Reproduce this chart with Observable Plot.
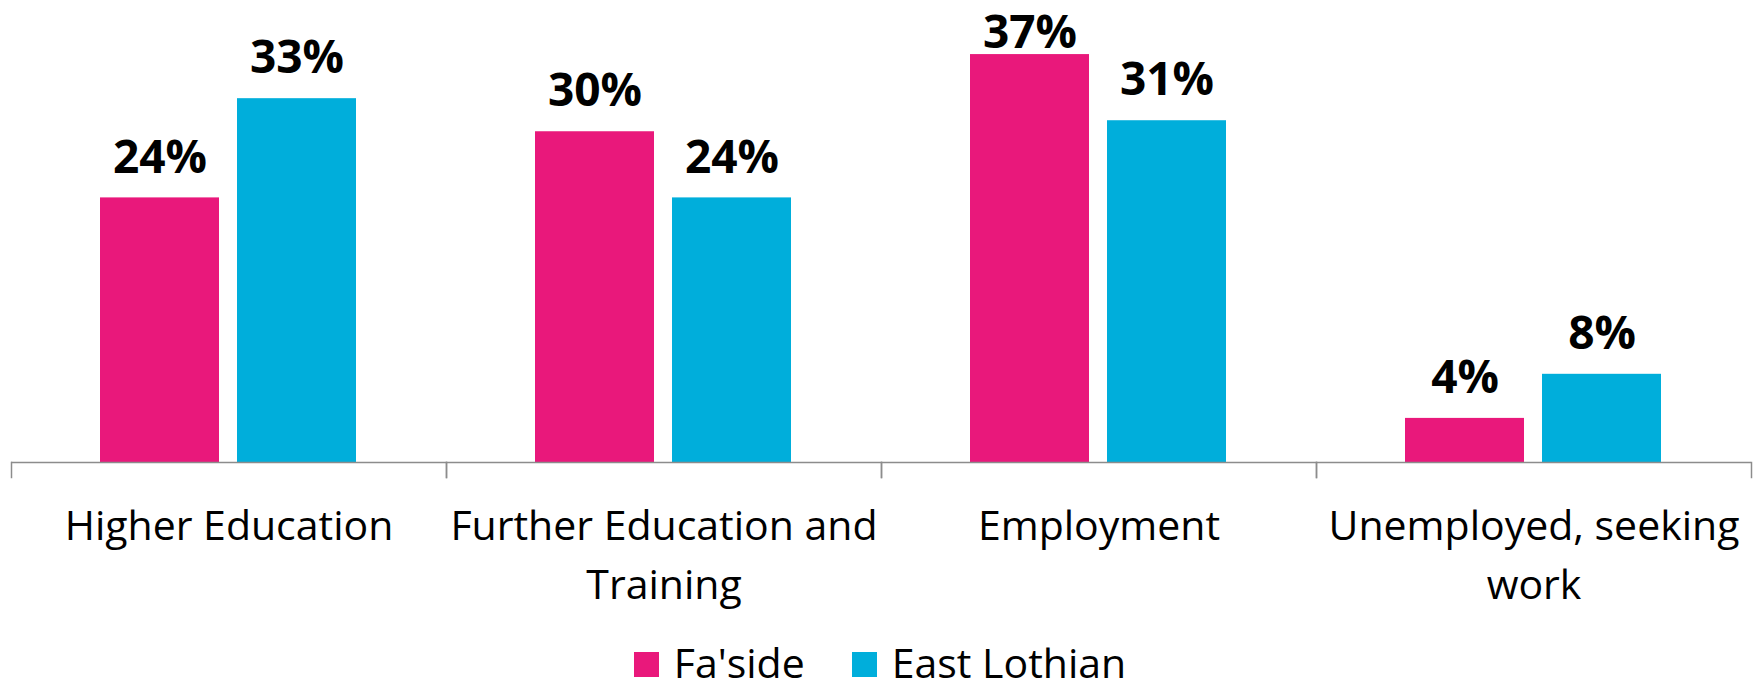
<!DOCTYPE html>
<html>
<head>
<meta charset="utf-8">
<script src="https://cdn.jsdelivr.net/npm/d3@7"></script>
<script src="https://cdn.jsdelivr.net/npm/@observablehq/plot@0.6"></script>
<style>
  html, body { margin: 0; padding: 0; background: #fff; overflow: hidden; }
  body { width: 1760px; height: 681px; font-family: 'Open Sans', sans-serif; }
  #legend { display: flex; justify-content: center; align-items: center; height: 36px; line-height: 36px; font-size: 41px; color: #000; }
  #legend .item { display: flex; align-items: center; }
  #legend .sw { width: 25px; height: 25px; margin-right: 15px; margin-top: 5px; }
  #legend .item + .item { margin-left: 47px; }
</style>
</head>
<body>
<div id="chart"></div>
<div id="legend"></div>
<script>
// ---- data ----
const categories = ["Higher Education", "Further Education and Training", "Employment", "Unemployed, seeking work"];
const categoryLabels = ["Higher Education", "Further Education and\nTraining", "Employment", "Unemployed, seeking\nwork"];
const series = ["Fa'side", "East Lothian"];
const fasideValues = [24, 30, 37, 4];
const eastLothianValues = [33, 24, 31, 8];
const seriesColors = ["#E9187B", "#00AEDB"];

const table = [];
categories.forEach((c, i) => {
  table.push({category: c, series: series[0], value: fasideValues[i]});
  table.push({category: c, series: series[1], value: eastLothianValues[i]});
});

const W = 1760, H = 644;
const mTop = 21, mBottom = 167;
const innerH = H - mTop - mBottom;
const tickLen = 15;
const axisColor = "#8c8c8c";
const labelMinY = 73; // keep value labels inside the chart area (as in the original)

const chart = Plot.plot({
  width: W,
  height: H,
  marginLeft: 11,
  marginRight: 9,
  marginTop: mTop,
  marginBottom: mBottom,
  style: {fontFamily: "'Open Sans', sans-serif", background: "#fff"},
  fx: {domain: categories, padding: 0, axis: null},
  x: {domain: series, paddingInner: 0.131, paddingOuter: 0.653, axis: null},
  y: {domain: [0, 40], insetBottom: tickLen, axis: null},
  color: {domain: series, range: seriesColors},
  marks: [
    Plot.barY(table, {fx: "category", x: "series", y: "value", fill: "series"}),
    Plot.ruleY([0], {stroke: axisColor, strokeWidth: 1.5}),
    Plot.frame({anchor: "left", stroke: axisColor, strokeWidth: 1.5, insetTop: innerH - tickLen}),
    Plot.frame({anchor: "right", stroke: axisColor, strokeWidth: 1.5, insetTop: innerH - tickLen}),
    Plot.text(table, {fx: "category", x: "series", y: "value", text: d => d.value + "%",
      dy: -40, fontSize: 46, fontWeight: "bold", fill: "#000",
      render: (index, scales, values, dimensions, context, next) => {
        const y = Array.from(values.y, v => Math.max(v, labelMinY));
        return next(index, scales, {...values, y}, dimensions, context);
      }}),
    Plot.text(categories, {fx: d => d, text: (d, i) => categoryLabels[i], frameAnchor: "bottom",
      lineAnchor: "top", dy: 21, fontSize: 41, lineHeight: 1.44, fill: "#000"})
  ]
});
document.getElementById("chart").appendChild(chart);

const legend = d3.select("#legend");
series.forEach((s, i) => {
  const item = legend.append("div").attr("class", "item");
  item.append("div").attr("class", "sw").style("background", seriesColors[i]);
  item.append("span").text(s);
});
</script>
</body>
</html>
